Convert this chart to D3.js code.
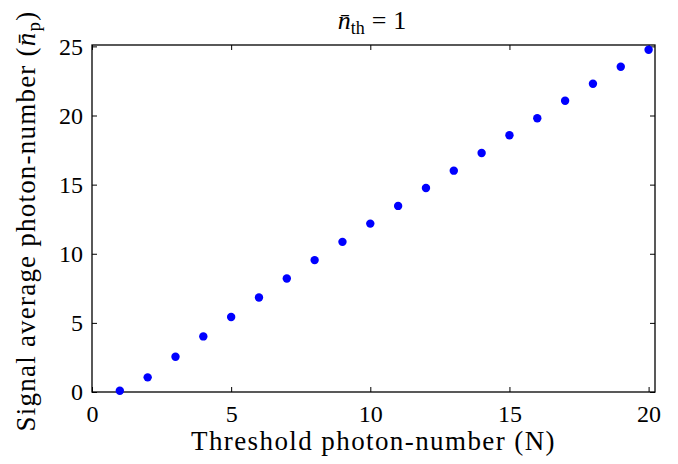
<!DOCTYPE html>
<html>
<head>
<meta charset="utf-8">
<script src="https://cdn.jsdelivr.net/npm/d3@7"></script>
<style>
  body { margin: 0; background: #fff; }
  text { font-family: "Liberation Serif", "DejaVu Serif", serif; fill: #000; }
</style>
</head>
<body>
<div id="chart"></div>
<script>
// data
const thresholdN = [1, 2, 3, 4, 5, 6, 7, 8, 9, 10, 11, 12, 13, 14, 15, 16, 17, 18, 19, 20];
const signalNp = [0.09, 1.06, 2.55, 4.02, 5.42, 6.84, 8.21, 9.54, 10.86, 12.18,
                  13.46, 14.76, 16.01, 17.29, 18.57, 19.8, 21.07, 22.3, 23.53, 24.76];
const xTicks = [0, 5, 10, 15, 20];
const yTicks = [0, 5, 10, 15, 20, 25];

const W = 678, H = 464;
const margin = {top: 45, right: 23, bottom: 72, left: 92};
const width = W - margin.left - margin.right,
      height = H - margin.top - margin.bottom;

const serif = "'Liberation Serif', 'DejaVu Serif', serif";

const svg = d3.select("#chart").append("svg")
    .attr("width", W)
    .attr("height", H)
    .attr("font-family", serif);

const g = svg.append("g")
    .attr("transform", `translate(${margin.left}, ${margin.top})`);

const x = d3.scaleLinear().domain([0, 20.23]).range([0, width]);
const y = d3.scaleLinear().domain([0, 25.1]).range([height, 0]);

const tickLen = 5;

function styleAxis(sel, showText) {
  sel.attr("font-family", serif);
  sel.select(".domain").remove();
  sel.selectAll(".tick line").attr("stroke", "#000").attr("stroke-width", 1);
  sel.selectAll(".tick text").style("font-size", "24px");
  if (!showText) sel.selectAll(".tick text").remove();
}

// bottom axis, ticks inward
g.append("g")
  .attr("transform", `translate(0, ${height})`)
  .call(d3.axisBottom(x).tickValues(xTicks).tickSize(-tickLen).tickPadding(13))
  .call(styleAxis, true);

// top axis ticks
g.append("g")
  .call(d3.axisTop(x).tickValues(xTicks).tickSize(-tickLen))
  .call(styleAxis, false);

// left axis
g.append("g")
  .call(d3.axisLeft(y).tickValues(yTicks).tickSize(-tickLen).tickPadding(9))
  .call(styleAxis, true);

// right axis ticks
g.append("g")
  .attr("transform", `translate(${width}, 0)`)
  .call(d3.axisRight(y).tickValues(yTicks).tickSize(-tickLen))
  .call(styleAxis, false);

// frame
g.append("rect")
  .attr("width", width)
  .attr("height", height)
  .attr("fill", "none")
  .attr("stroke", "#000")
  .attr("stroke-width", 1.3);

// points
g.selectAll("circle.pt")
  .data(thresholdN)
  .join("circle")
    .attr("class", "pt")
    .attr("cx", d => x(d))
    .attr("cy", (d, i) => y(signalNp[i]))
    .attr("r", 4.2)
    .attr("fill", "#0000ff");

// stretch a label to the width it has in the reference
function fitWidth(sel, target) {
  const len = sel.node().getComputedTextLength();
  const n = sel.text().length;
  sel.style("letter-spacing", ((target - len) / n) + "px");
}

// x label
svg.append("text")
  .attr("x", margin.left + width / 2)
  .attr("y", 450)
  .attr("text-anchor", "middle")
  .style("font-size", "27px")
  .text("Threshold photon-number (N)")
  .call(fitWidth, 365);

// y label
const yl = svg.append("text")
  .attr("transform", `translate(35, 221) rotate(-90)`)
  .attr("text-anchor", "middle")
  .style("font-size", "27px");
yl.append("tspan").text("Signal average photon-number (");
yl.append("tspan").style("font-style", "italic").text("n\u0304");
yl.append("tspan").attr("dy", 5).style("font-size", "19px").text("p");
yl.append("tspan").attr("dy", -5).text(")");
yl.call(fitWidth, 422);

// title
const tt = svg.append("text")
  .attr("x", 372)
  .attr("y", 29)
  .attr("text-anchor", "middle")
  .style("font-size", "26px");
tt.append("tspan").style("font-style", "italic").text("n\u0304");
tt.append("tspan").attr("dy", 5).style("font-size", "18px").text("th");
tt.append("tspan").attr("dy", -5).attr("dx", 7).text("=");
tt.append("tspan").attr("dx", 7).text("1");
</script>
</body>
</html>
